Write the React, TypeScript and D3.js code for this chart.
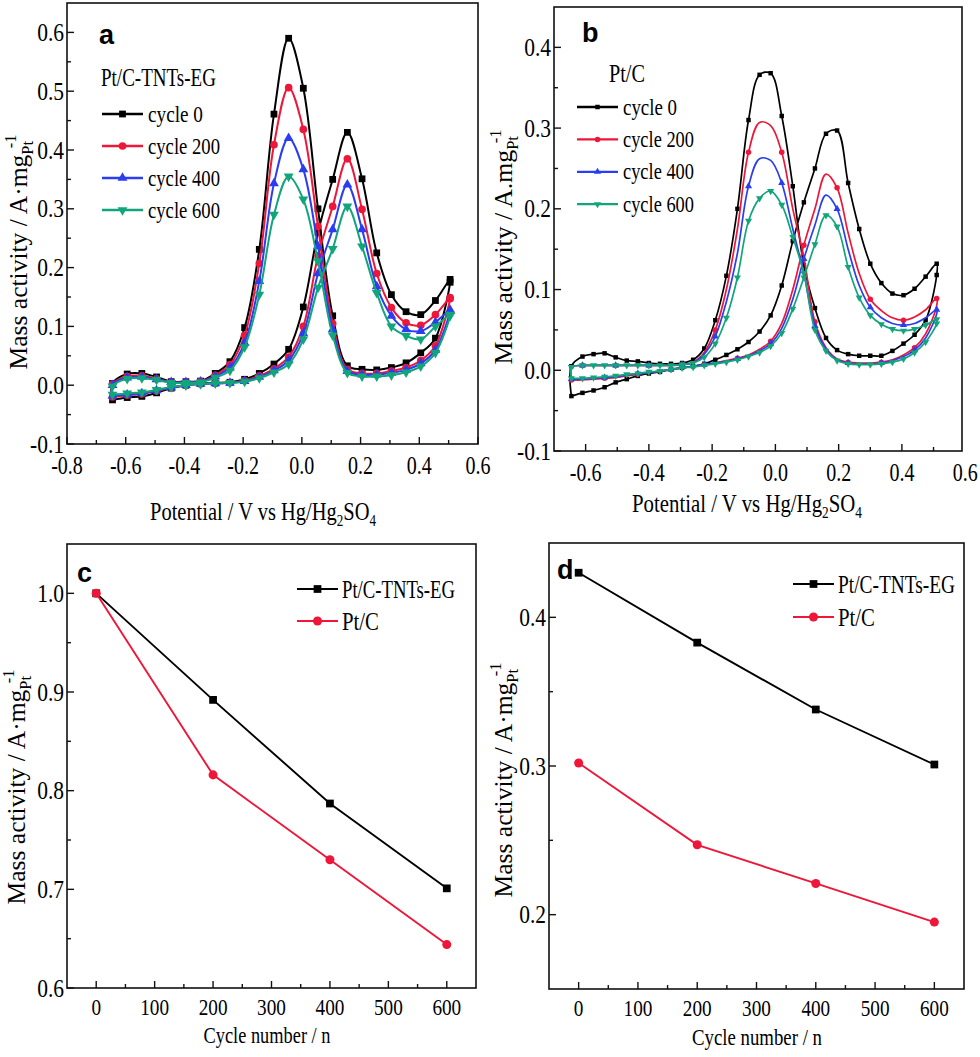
import { useLayoutEffect, useRef, useState } from 'react'
import * as d3 from 'd3'

const SERIF = '"Liberation Serif", "Times New Roman", serif'
const SANS = '"Liberation Sans", Arial, sans-serif'
const BLACK = '#000000'
const RED = '#ee1639'
const BLUE = '#2b3df0'
const GREEN = '#12a57b'

// ---------- panel a : Pt/C-TNTs-EG, CV loops (forward then reverse scan) ----------
const potentialA = [-0.645, -0.595, -0.545, -0.495, -0.445, -0.395, -0.345, -0.295, -0.245, -0.195, -0.145, -0.095,
  -0.045, 0.005, 0.055, 0.105, 0.155, 0.205, 0.255, 0.305, 0.355, 0.405, 0.455, 0.505]

const aCycle0Fwd = [-0.025, -0.021, -0.019, -0.013, -0.005, 0.0, 0.003, 0.004, 0.005, 0.01, 0.02, 0.036, 0.061, 0.133, 0.26, 0.35, 0.43, 0.351, 0.225, 0.154, 0.125, 0.12, 0.144, 0.18]
const aCycle0Rev = [0.175, 0.08, 0.055, 0.038, 0.03, 0.026, 0.027, 0.033, 0.118, 0.3, 0.505, 0.59, 0.461, 0.231, 0.098, 0.04, 0.02, 0.007, 0.006, 0.006, 0.014, 0.02, 0.019, 0.003]
const aCycle200Fwd = [-0.02, -0.017, -0.015, -0.01, -0.004, 0.0, 0.002, 0.003, 0.004, 0.008, 0.016, 0.028, 0.048, 0.1, 0.22, 0.304, 0.385, 0.299, 0.19, 0.132, 0.106, 0.102, 0.12, 0.149]
const aCycle200Rev = [0.147, 0.067, 0.042, 0.03, 0.024, 0.02, 0.02, 0.027, 0.105, 0.27, 0.435, 0.506, 0.409, 0.207, 0.085, 0.035, 0.017, 0.006, 0.005, 0.005, 0.011, 0.016, 0.015, 0.002]
const aCycle400Fwd = [-0.018, -0.016, -0.014, -0.009, -0.004, 0.0, 0.002, 0.003, 0.004, 0.007, 0.014, 0.025, 0.042, 0.088, 0.19, 0.265, 0.341, 0.265, 0.168, 0.118, 0.095, 0.092, 0.107, 0.128]
const aCycle400Rev = [0.126, 0.06, 0.037, 0.026, 0.021, 0.018, 0.018, 0.024, 0.095, 0.236, 0.367, 0.42, 0.343, 0.177, 0.072, 0.03, 0.015, 0.006, 0.005, 0.005, 0.01, 0.014, 0.013, 0.0]
const aCycle600Fwd = [-0.016, -0.014, -0.012, -0.008, -0.003, 0.0, 0.002, 0.003, 0.004, 0.006, 0.012, 0.022, 0.036, 0.078, 0.166, 0.232, 0.304, 0.236, 0.157, 0.1, 0.084, 0.078, 0.1, 0.12]
const aCycle600Rev = [0.118, 0.055, 0.032, 0.022, 0.017, 0.015, 0.015, 0.021, 0.085, 0.211, 0.316, 0.355, 0.29, 0.154, 0.065, 0.025, 0.013, 0.005, 0.004, 0.004, 0.009, 0.012, 0.011, -0.002]

// ---------- panel b : Pt/C ----------
const potentialB = [-0.645, -0.61, -0.575, -0.54, -0.505, -0.47, -0.435, -0.4, -0.365, -0.33, -0.295, -0.26,
  -0.225, -0.19, -0.155, -0.12, -0.085, -0.05, -0.015, 0.02, 0.055, 0.09, 0.125, 0.16, 0.195, 0.23, 0.265, 0.3,
  0.335, 0.37, 0.405, 0.44, 0.475, 0.51]

const bCycle0Fwd = [-0.032, -0.028, -0.025, -0.021, -0.015, -0.011, -0.007, -0.004, -0.002, 0.001, 0.003, 0.005, 0.008, 0.013, 0.019, 0.026, 0.035, 0.048, 0.068, 0.105, 0.16, 0.208, 0.25, 0.293, 0.297, 0.232, 0.175, 0.132, 0.108, 0.095, 0.093, 0.101, 0.116, 0.132]
const bCycle0Rev = [0.118, 0.062, 0.044, 0.033, 0.024, 0.018, 0.018, 0.018, 0.02, 0.025, 0.04, 0.077, 0.13, 0.228, 0.315, 0.368, 0.366, 0.31, 0.2, 0.117, 0.062, 0.027, 0.013, 0.009, 0.008, 0.008, 0.009, 0.011, 0.012, 0.016, 0.021, 0.02, 0.017, 0.005]
const bCycle200Fwd = [-0.012, -0.012, -0.011, -0.01, -0.009, -0.007, -0.005, -0.003, -0.001, 0.001, 0.003, 0.005, 0.007, 0.009, 0.012, 0.015, 0.019, 0.026, 0.036, 0.058, 0.1, 0.155, 0.2, 0.243, 0.226, 0.17, 0.12, 0.088, 0.074, 0.065, 0.062, 0.066, 0.075, 0.089]
const bCycle200Rev = [0.08, 0.045, 0.028, 0.019, 0.013, 0.01, 0.009, 0.009, 0.01, 0.014, 0.028, 0.06, 0.14, 0.2, 0.27, 0.303, 0.307, 0.27, 0.175, 0.1, 0.05, 0.022, 0.01, 0.007, 0.006, 0.006, 0.006, 0.006, 0.006, 0.006, 0.006, 0.006, 0.006, 0.004]
const bCycle400Fwd = [-0.011, -0.011, -0.01, -0.009, -0.008, -0.006, -0.004, -0.003, -0.001, 0.001, 0.003, 0.005, 0.007, 0.009, 0.011, 0.014, 0.018, 0.024, 0.033, 0.052, 0.088, 0.138, 0.18, 0.217, 0.2, 0.15, 0.105, 0.078, 0.065, 0.058, 0.056, 0.058, 0.065, 0.075]
const bCycle400Rev = [0.07, 0.04, 0.025, 0.017, 0.012, 0.009, 0.008, 0.008, 0.009, 0.013, 0.026, 0.055, 0.12, 0.175, 0.232, 0.26, 0.262, 0.228, 0.145, 0.085, 0.042, 0.02, 0.009, 0.007, 0.006, 0.006, 0.006, 0.006, 0.006, 0.006, 0.006, 0.006, 0.006, 0.004]
const bCycle600Fwd = [-0.01, -0.01, -0.009, -0.008, -0.007, -0.005, -0.004, -0.002, -0.001, 0.001, 0.003, 0.004, 0.006, 0.008, 0.01, 0.013, 0.017, 0.022, 0.03, 0.046, 0.076, 0.115, 0.156, 0.192, 0.178, 0.128, 0.09, 0.068, 0.057, 0.051, 0.049, 0.051, 0.056, 0.063]
const bCycle600Rev = [0.058, 0.035, 0.022, 0.014, 0.01, 0.008, 0.007, 0.007, 0.008, 0.012, 0.024, 0.05, 0.12, 0.165, 0.205, 0.222, 0.213, 0.185, 0.115, 0.065, 0.033, 0.016, 0.009, 0.007, 0.006, 0.006, 0.006, 0.006, 0.006, 0.006, 0.006, 0.006, 0.006, 0.004]

const cycleNames = ['cycle 0', 'cycle 200', 'cycle 400', 'cycle 600']

// ---------- panels c, d : mass activity vs cycle number ----------
const cycleNumbers = [0, 200, 400, 600]
const cTnts = [1.0, 0.892, 0.787, 0.701]
const cPtC = [1.0, 0.816, 0.73, 0.644]
const dTnts = [0.43, 0.383, 0.338, 0.301]
const dPtC = [0.302, 0.247, 0.221, 0.195]

// tick labels
const aXTicks = [-0.8, -0.6, -0.4, -0.2, 0, 0.2, 0.4, 0.6]
const aYTicks = [-0.1, 0, 0.1, 0.2, 0.3, 0.4, 0.5, 0.6]
const bXTicks = [-0.6, -0.4, -0.2, 0, 0.2, 0.4, 0.6]
const bYTicks = [-0.1, 0, 0.1, 0.2, 0.3, 0.4]
const cycleTicks = [0, 100, 200, 300, 400, 500, 600]
const cYTicks = [0.6, 0.7, 0.8, 0.9, 1.0]
const dYTicks = [0.2, 0.3, 0.4]

const xA = d3.scaleLinear().domain([-0.8, 0.6]).range([67, 478])
const yA = d3.scaleLinear().domain([-0.1, 0.65]).range([444, 3])
const xB = d3.scaleLinear().domain([-0.7, 0.59]).range([554, 962])
const yB = d3.scaleLinear().domain([-0.1, 0.45]).range([451, 7])
const xC = d3.scaleLinear().domain([-50, 650]).range([67, 476])
const yC = d3.scaleLinear().domain([0.6, 1.05]).range([988, 544])
const xD = d3.scaleLinear().domain([-50, 650]).range([549, 964])
const yD = d3.scaleLinear().domain([0.15, 0.45]).range([989, 543])

const colors = [BLACK, RED, BLUE, GREEN]
const shapes = ['square', 'circle', 'up', 'down']

const seriesA = [
  { fwd: aCycle0Fwd, rev: aCycle0Rev, step: 1 },
  { fwd: aCycle200Fwd, rev: aCycle200Rev, step: 1 },
  { fwd: aCycle400Fwd, rev: aCycle400Rev, step: 1 },
  { fwd: aCycle600Fwd, rev: aCycle600Rev, step: 1 },
].map((s, i) => ({ ...s, name: cycleNames[i], color: colors[i], shape: shapes[i] }))

const seriesB = [
  { fwd: bCycle0Fwd, rev: bCycle0Rev, step: 1 },
  { fwd: bCycle200Fwd, rev: bCycle200Rev, step: 3 },
  { fwd: bCycle400Fwd, rev: bCycle400Rev, step: 3 },
  { fwd: bCycle600Fwd, rev: bCycle600Rev, step: 1 },
].map((s, i) => ({ ...s, name: cycleNames[i], color: colors[i], shape: shapes[i] }))

const sizesA = { square: 46, circle: 46, up: 42, down: 42 }
const sizesB = { square: 20, circle: 24, up: 22, down: 22 }
const sizesC = { square: 60, circle: 64, up: 50, down: 50 }

function FitText({ x, y, width, anchor = 'start', size = 25, family = SERIF, weight = 'normal', rotate = 0, children }: any) {
  const ref = useRef<SVGTextElement>(null)
  const [k, setK] = useState(1)
  useLayoutEffect(() => {
    if (!ref.current || !width) return
    const w = ref.current.getBBox().width
    if (w > 0) setK(width / w)
  }, [width])
  return (
    <g transform={`translate(${x},${y}) rotate(${rotate}) scale(${k},1)`}>
      <text ref={ref} textAnchor={anchor} fontSize={size} fontFamily={family} fontWeight={weight} fill="#000">
        {children}
      </text>
    </g>
  )
}

function Marker({ shape, cx, cy, size, color }: any) {
  const type = shape === 'square' ? d3.symbolSquare : shape === 'circle' ? d3.symbolCircle : d3.symbolTriangle
  const d = d3.symbol().type(type).size(size)()
  return <path d={d} fill={color} transform={`translate(${cx},${cy})${shape === 'down' ? ' rotate(180)' : ''}`} />
}

const mids = (t: number[]) => t.slice(1).map((v, i) => (v + t[i]) / 2)

function Axes({ x, y, xTicks, yTicks, fmtX, fmtY, sxX = 0.8, sxY = 0.86, xSize = 25, xOff = 30 }: any) {
  const [x0, x1] = x.range()
  const [y0, y1] = y.range()
  const inX = (v: number) => x(v) >= x0 - 0.5 && x(v) <= x1 + 0.5
  const inY = (v: number) => y(v) <= y0 + 0.5 && y(v) >= y1 - 0.5
  return (
    <g>
      <rect x={x0} y={y1} width={x1 - x0} height={y0 - y1} fill="none" stroke="#111" strokeWidth={1.6} />
      {xTicks.filter(inX).map((t: number) => (
        <line key={'xt' + t} x1={x(t)} x2={x(t)} y1={y0} y2={y0 - 7} stroke="#111" strokeWidth={1.4} />
      ))}
      {mids(xTicks).filter(inX).map((t: number) => (
        <line key={'xm' + t} x1={x(t)} x2={x(t)} y1={y0} y2={y0 - 4} stroke="#111" strokeWidth={1.4} />
      ))}
      {yTicks.filter(inY).map((t: number) => (
        <line key={'yt' + t} x1={x0} x2={x0 + 7} y1={y(t)} y2={y(t)} stroke="#111" strokeWidth={1.4} />
      ))}
      {mids(yTicks).filter(inY).map((t: number) => (
        <line key={'ym' + t} x1={x0} x2={x0 + 4} y1={y(t)} y2={y(t)} stroke="#111" strokeWidth={1.4} />
      ))}
      {xTicks.map((t: number) => (
        <text key={'xl' + t} transform={`translate(${x(t)},${y0 + xOff}) scale(${sxX},1)`} textAnchor="middle"
          fontSize={xSize} fontFamily={SERIF}>{fmtX(t)}</text>
      ))}
      {yTicks.map((t: number) => (
        <text key={'yl' + t} transform={`translate(${x0 - 3},${y(t) + 8.5}) scale(${sxY},1)`} textAnchor="end"
          fontSize={25} fontFamily={SERIF}>{fmtY(t)}</text>
      ))}
    </g>
  )
}

function CVLoops({ x, y, potentials, series, lineWidth, sizes }: any) {
  const reversed = potentials.slice().reverse()
  const line = d3.line<number[]>().x(d => x(d[0])).y(d => y(d[1])).curve(d3.curveCatmullRom.alpha(0.5))
  return (
    <g>
      {series.map((s: any) => {
        const fwd = s.fwd.map((v: number, i: number) => [potentials[i], v])
        const rev = s.rev.map((v: number, i: number) => [reversed[i], v])
        const marks = [...fwd, ...rev].filter((_: any, i: number) => i % s.step === 0)
        return (
          <g key={s.name}>
            <path d={line([...fwd, ...rev, fwd[0]]) || ''} fill="none" stroke={s.color} strokeWidth={lineWidth} />
            {marks.map((p: number[], i: number) => (
              <Marker key={i} shape={s.shape} cx={x(p[0])} cy={y(p[1])} size={sizes[s.shape]} color={s.color} />
            ))}
          </g>
        )
      })}
    </g>
  )
}

function CycleLegend({ series, lx0, lx1, tx, y0, dy, widths, sizes, lineWidth }: any) {
  return (
    <g>
      {series.map((s: any, i: number) => {
        const yy = y0 + i * dy
        return (
          <g key={s.name}>
            <line x1={lx0} x2={lx1} y1={yy} y2={yy} stroke={s.color} strokeWidth={lineWidth + 0.6} />
            <Marker shape={s.shape} cx={(lx0 + lx1) / 2} cy={yy} size={sizes[s.shape]} color={s.color} />
            <FitText x={tx} y={yy + 7.5} width={widths[i]} size={24}>{s.name}</FitText>
          </g>
        )
      })}
    </g>
  )
}

function TrendPanel({ x, y, tnts, ptc, lx0, lx1, tx, ly, ldy, tw }: any) {
  const line = d3.line<number>().x((_, i) => x(cycleNumbers[i])).y(d => y(d))
  const sets = [
    { name: 'Pt/C-TNTs-EG', vals: tnts, color: BLACK, shape: 'square', w: tw },
    { name: 'Pt/C', vals: ptc, color: RED, shape: 'circle', w: 37 },
  ]
  return (
    <g>
      {sets.map(s => (
        <g key={s.name}>
          <path d={line(s.vals) || ''} fill="none" stroke={s.color} strokeWidth={1.9} />
          {s.vals.map((v: number, i: number) => (
            <Marker key={i} shape={s.shape} cx={x(cycleNumbers[i])} cy={y(v)} size={sizesC[s.shape as 'square']} color={s.color} />
          ))}
        </g>
      ))}
      {sets.map((s, i) => (
        <g key={'lg' + s.name}>
          <line x1={lx0} x2={lx1} y1={ly + i * ldy} y2={ly + i * ldy} stroke={s.color} strokeWidth={2} />
          <Marker shape={s.shape} cx={(lx0 + lx1) / 2} cy={ly + i * ldy} size={sizesC[s.shape as 'square']} color={s.color} />
          <FitText x={tx} y={ly + i * ldy + 8.5} width={s.w} size={25}>{s.name}</FitText>
        </g>
      ))}
    </g>
  )
}

function YTitle({ x, y, dot }: any) {
  return (
    <FitText x={x} y={y} width={235} anchor="middle" rotate={-90} size={25}>
      {`Mass activity / A${dot}mg`}
      <tspan dy={6} fontSize={16}>Pt</tspan>
      <tspan dx={-7} dy={-17} fontSize={16}>-1</tspan>
    </FitText>
  )
}

function PotentialTitle({ x, y, width }: any) {
  return (
    <FitText x={x} y={y} width={width} anchor="middle" size={25}>
      Potential / V vs Hg/Hg
      <tspan dy={6} fontSize={16}>2</tspan>
      <tspan dy={-6}>SO</tspan>
      <tspan dy={6} fontSize={16}>4</tspan>
    </FitText>
  )
}

const f1 = (v: number) => v.toFixed(1)
const f0 = (v: number) => String(v)

export default function App() {
  return (
    <svg width={980} height={1057} style={{ position: 'absolute', left: 0, top: 0, background: '#fff' }}>
      <rect x={0} y={0} width={980} height={1057} fill="#fff" />

      {/* a */}
      <CVLoops x={xA} y={yA} potentials={potentialA} series={seriesA} lineWidth={2} sizes={sizesA} />
      <Axes x={xA} y={yA} xTicks={aXTicks} yTicks={aYTicks} fmtX={f1} fmtY={f1} />
      <text x={99} y={44} fontSize={27} fontFamily={SANS} fontWeight="bold">a</text>
      <FitText x={101} y={86} width={115} size={25}>Pt/C-TNTs-EG</FitText>
      <CycleLegend series={seriesA} lx0={102} lx1={143} tx={148} y0={114} dy={32} widths={[55, 72, 72, 72]} sizes={sizesA} lineWidth={2} />
      <YTitle x={27} y={252} dot="·" />
      <PotentialTitle x={263} y={520} width={226} />

      {/* b */}
      <CVLoops x={xB} y={yB} potentials={potentialB} series={seriesB} lineWidth={1.7} sizes={sizesB} />
      <Axes x={xB} y={yB} xTicks={bXTicks} yTicks={bYTicks} fmtX={f1} fmtY={f1} />
      <text x={582} y={42} fontSize={27} fontFamily={SANS} fontWeight="bold">b</text>
      <FitText x={609} y={82} width={36} size={25}>Pt/C</FitText>
      <CycleLegend series={seriesB} lx0={577} lx1={618} tx={623} y0={107} dy={32.4} widths={[54, 71, 71, 71]} sizes={sizesB} lineWidth={1.7} />
      <YTitle x={512} y={247} dot="." />
      <PotentialTitle x={747} y={512} width={230} />

      {/* c */}
      <TrendPanel x={xC} y={yC} tnts={cTnts} ptc={cPtC} lx0={297} lx1={338} tx={342} ly={589} ldy={32} tw={113} />
      <Axes x={xC} y={yC} xTicks={cycleTicks} yTicks={cYTicks} fmtX={f0} fmtY={f1} xSize={24} xOff={27} />
      <text x={77} y={582} fontSize={27} fontFamily={SANS} fontWeight="bold">c</text>
      <YTitle x={25} y={787} dot="·" />
      <FitText x={267} y={1043} width={127} anchor="middle" size={24}>Cycle number / n</FitText>

      {/* d */}
      <TrendPanel x={xD} y={yD} tnts={dTnts} ptc={dPtC} lx0={793} lx1={834} tx={838} ly={584} ldy={33} tw={117} />
      <Axes x={xD} y={yD} xTicks={cycleTicks} yTicks={dYTicks} fmtX={f0} fmtY={f1} xSize={24} xOff={27} />
      <text x={557} y={579} fontSize={27} fontFamily={SANS} fontWeight="bold">d</text>
      <YTitle x={512} y={780} dot="·" />
      <FitText x={757} y={1045} width={130} anchor="middle" size={24}>Cycle number / n</FitText>
    </svg>
  )
}
